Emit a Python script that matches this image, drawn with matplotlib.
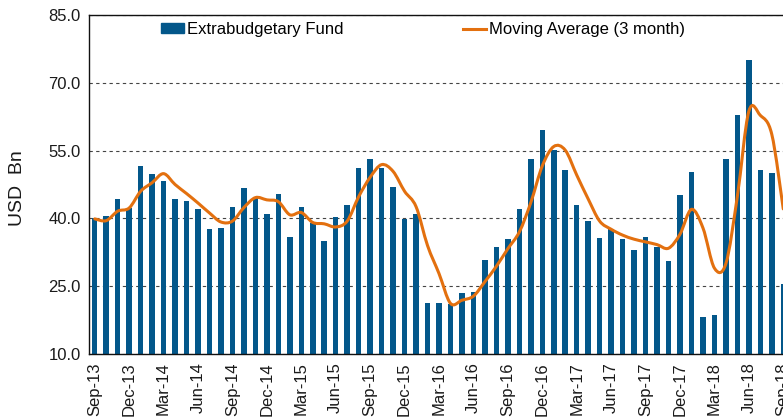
import matplotlib.pyplot as plt
from matplotlib.path import Path
from matplotlib.patches import PathPatch, Patch
from matplotlib.lines import Line2D

months = []
for y in range(13, 19):
    for m in ["Jan", "Feb", "Mar", "Apr", "May", "Jun",
              "Jul", "Aug", "Sep", "Oct", "Nov", "Dec"]:
        months.append(f"{m}-{y}")
months = months[8:8 + 61]  # Sep-13 .. Sep-18

fund = [40.0, 40.5, 44.2, 42.2, 51.7, 49.9, 48.2, 44.4, 43.8, 42.0,
        37.7, 37.8, 42.6, 46.7, 44.6, 41.0, 45.5, 35.9, 42.5, 38.9,
        35.0, 40.3, 43.0, 51.2, 53.2, 51.2, 46.9, 39.9, 40.9, 21.2,
        21.3, 21.1, 23.4, 23.8, 30.7, 33.7, 35.4, 42.0, 53.2, 59.5,
        55.1, 50.6, 43.0, 39.4, 35.7, 37.7, 35.4, 33.1, 35.9, 33.7,
        30.6, 45.2, 50.2, 18.2, 18.7, 53.2, 62.8, 75.0, 50.7, 50.0,
        25.5]

moving_avg = [39.9, 39.5, 41.6, 42.3, 46.0, 47.9, 49.9, 47.5, 45.5, 43.4,
              41.2, 39.2, 39.4, 42.4, 44.6, 44.1, 43.7, 40.8, 41.3, 39.1,
              38.8, 38.1, 39.4, 44.8, 49.1, 51.9, 50.4, 46.0, 42.6, 34.0,
              27.8, 21.2, 21.9, 22.8, 26.0, 29.4, 33.3, 37.0, 43.5, 51.6,
              55.9, 55.1, 49.6, 44.3, 39.4, 37.6, 36.3, 35.4, 34.8, 34.2,
              33.4, 36.5, 42.0, 37.9, 29.0, 30.0, 44.9, 63.7, 62.8, 58.6,
              42.1]

bar_color = "#03578a"
line_color = "#e3700f"

fig = plt.figure(figsize=(7.83, 4.19), dpi=100)
plt.rcParams["font.family"] = ["Liberation Sans", "DejaVu Sans"]
ax = fig.add_axes([89 / 783, 65 / 419, 700 / 783, 339 / 419])

x = list(range(len(fund)))
ax.bar(x, fund, width=0.48, color=bar_color, zorder=2)

# smoothed line (Catmull-Rom as cubic bezier)
verts = [(x[0], moving_avg[0])]
codes = [Path.MOVETO]
n = len(moving_avg)
for i in range(n - 1):
    p0 = (x[max(i - 1, 0)], moving_avg[max(i - 1, 0)])
    p1 = (x[i], moving_avg[i])
    p2 = (x[i + 1], moving_avg[i + 1])
    p3 = (x[min(i + 2, n - 1)], moving_avg[min(i + 2, n - 1)])
    c1 = (p1[0] + (p2[0] - p0[0]) / 6, p1[1] + (p2[1] - p0[1]) / 6)
    c2 = (p2[0] - (p3[0] - p1[0]) / 6, p2[1] - (p3[1] - p1[1]) / 6)
    verts += [c1, c2, p2]
    codes += [Path.CURVE4] * 3
ax.add_patch(PathPatch(Path(verts, codes), fill=False, edgecolor=line_color,
                       lw=2.2, capstyle="round", joinstyle="round", zorder=3))

ax.set_xlim(-0.5, 60.5)
ax.set_ylim(10, 85)
ax.set_yticks([10, 25, 40, 55, 70, 85])
ax.set_yticklabels([f"{v:.1f}" for v in [10, 25, 40, 55, 70, 85]])
ax.set_xticks(x[::3])
ax.set_xticklabels(months[::3], rotation=90)
ax.tick_params(length=0, labelsize=12, colors="#1a1a1a", pad=6)
ax.yaxis.grid(True, color="#444444", linestyle=(0, (3, 3)), lw=0.8, zorder=1)
ax.set_axisbelow(True)
for s in ["left", "bottom", "top"]:
    ax.spines[s].set_linewidth(1.0)
    ax.spines[s].set_color("#111111")
ax.spines["right"].set_visible(False)
ax.set_ylabel("USD  Bn", fontsize=14, color="#1a1a1a")
ax.yaxis.set_label_coords(-63 / 700, 0.49)

handles = [Patch(color=bar_color), Line2D([], [], color=line_color, lw=2.2)]
fig.legend(handles, ["Extrabudgetary Fund", "Moving Average (3 month)"],
           loc="upper left", bbox_to_anchor=(161 / 783, 1 - 22 / 419),
           bbox_transform=fig.transFigure, ncol=2, frameon=False,
           fontsize=12, handlelength=1.35, handleheight=0.55,
           handletextpad=0.2, columnspacing=7.2, borderpad=0,
           borderaxespad=0)

fig.savefig("out.png", dpi=100)
